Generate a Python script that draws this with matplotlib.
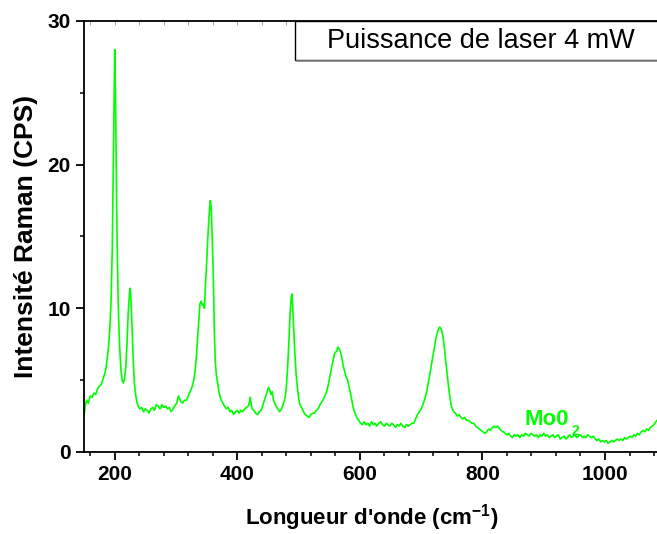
import matplotlib
matplotlib.use("Agg")
import matplotlib.pyplot as plt
from matplotlib.ticker import MultipleLocator
from matplotlib.patches import Rectangle
from matplotlib.lines import Line2D

plt.rcParams['font.family'] = ['Liberation Sans', 'DejaVu Sans']
plt.rcParams['mathtext.fontset'] = 'custom'
plt.rcParams['mathtext.rm'] = 'Liberation Sans:bold'
plt.rcParams['mathtext.bf'] = 'Liberation Sans:bold'

# Raman spectrum of MoO2 (4 mW laser)
raman_shift = [
    150, 152, 154, 157, 160, 163, 166, 169, 172, 175,
    178, 181, 184, 186, 188, 190, 192, 194, 196, 198,
    200, 201.5, 203, 204.5, 206, 208, 210, 212, 214, 216,
    218, 220, 222, 224, 225, 226.5, 228, 230, 232, 234,
    236, 238, 241, 244, 247, 250, 253, 256, 259, 262,
    265, 268, 271, 274, 277, 280, 283, 286, 289, 292,
    295, 298, 301, 304, 306, 308, 311, 314, 317, 320,
    323, 326, 329, 331, 333, 335, 337, 339, 341, 343,
    345, 346.5, 348, 350, 352, 354, 356, 357.5, 359, 361,
    362.5, 364, 366, 368, 370, 372, 374, 376.5, 379, 382,
    385, 388, 391, 394, 397, 400, 403, 406, 409, 412,
    415, 418, 420, 421, 422.5, 424, 427, 430, 433, 436,
    439, 442, 445, 448, 451, 453, 455, 457, 459, 461,
    463, 466, 469, 472, 475, 478, 480, 482, 484, 486,
    488, 489, 490.5, 492, 494, 496, 498, 500, 502, 505,
    508, 511, 514, 517, 520, 523, 526, 529, 532, 535,
    538, 541, 544, 547, 550, 553, 556, 559, 562, 564,
    566, 568, 570, 572, 574, 577, 580, 583, 586, 589,
    592, 595, 598, 601, 604, 607, 610, 613, 616, 619,
    622, 625, 628, 631, 634, 637, 640, 643, 646, 649,
    652, 655, 658, 661, 664, 667, 670, 673, 676, 679,
    682, 685, 688, 691, 694, 697, 700, 703, 706, 709,
    712, 715, 718, 721, 724, 727, 730, 732, 734, 736,
    738, 740, 742, 744, 746, 748, 750, 753, 756, 759,
    762, 765, 768, 771, 774, 777, 780, 783, 786, 789,
    792, 795, 798, 801, 804, 807, 810, 813, 816, 819,
    822, 825, 828, 831, 834, 837, 840, 843, 846, 849,
    852, 855, 858, 861, 864, 867, 870, 873, 876, 879,
    882, 885, 888, 891, 894, 897, 900, 903, 906, 909,
    912, 915, 918, 921, 924, 927, 930, 933, 936, 939,
    942, 945, 948, 951, 954, 957, 960, 963, 966, 969,
    972, 975, 978, 981, 984, 987, 990, 993, 996, 999,
    1002, 1005, 1008, 1011, 1014, 1017, 1020, 1023, 1026, 1029,
    1032, 1035, 1038, 1041, 1044, 1047, 1050, 1053, 1056, 1059,
    1062, 1065, 1068, 1071, 1074, 1077, 1080, 1083, 1087,
]
intensity = [
    2.6, 3.2, 3.6, 3.4, 3.9, 3.8, 4.1, 4.0, 4.4, 4.6,
    4.7, 5.1, 5.5, 5.9, 6.6, 7.4, 8.6, 10.5, 14.3, 21.0,
    28.0, 24.0, 17.5, 13.0, 9.8, 7.3, 5.8, 5.0, 4.8, 5.1,
    5.9, 7.5, 9.7, 11.0, 11.4, 10.6, 9.0, 6.6, 4.8, 4.0,
    3.5, 3.2, 3.0, 3.1, 2.8, 3.0, 2.9, 2.7, 3.0, 3.1,
    2.9, 3.3, 3.2, 3.0, 3.3, 3.1, 3.2, 3.0, 3.1, 2.8,
    3.0, 3.2, 3.4, 3.9, 3.7, 3.5, 3.4, 3.6, 3.6, 3.9,
    4.2, 4.5, 5.0, 5.6, 6.5, 7.8, 9.2, 10.3, 10.5, 10.2,
    10.3, 10.0, 11.6, 13.2, 15.0, 16.5, 17.5, 17.0, 15.0, 12.0,
    8.5, 6.3, 5.3, 4.8, 4.2, 3.8, 3.6, 3.4, 3.2, 3.0,
    3.1, 2.8, 2.9, 2.6, 2.8, 2.9, 2.7, 2.9, 2.8, 3.0,
    3.1, 3.2, 3.5, 3.8, 3.4, 3.0, 2.9, 2.7, 2.6, 2.8,
    2.9, 3.3, 3.7, 4.1, 4.5, 4.3, 4.0, 4.2, 3.6, 3.4,
    3.2, 3.0, 2.8, 3.0, 3.3, 3.8, 4.5, 5.8, 7.5, 9.5,
    10.8, 11.0, 10.0, 8.6, 6.8, 5.4, 4.5, 3.8, 3.3, 3.1,
    2.8, 2.6, 2.5, 2.4, 2.6, 2.7, 2.7, 2.9, 3.0, 3.3,
    3.5, 3.7, 4.0, 4.4, 5.0, 5.7, 6.3, 6.9, 7.0, 7.3,
    7.2, 7.0, 6.7, 6.2, 5.8, 5.3, 5.0, 4.4, 3.8, 3.1,
    2.7, 2.4, 2.2, 2.0, 1.9, 2.1, 1.9, 2.0, 1.8, 2.1,
    1.9, 2.0, 1.8, 2.0, 2.1, 1.9, 1.8, 2.0, 1.9, 1.8,
    2.0, 1.9, 1.7, 1.9, 1.8, 2.0, 1.8, 1.7, 1.9, 1.8,
    1.9, 2.0, 2.0, 2.3, 2.6, 2.8, 3.0, 3.3, 3.7, 4.2,
    4.9, 5.6, 6.4, 7.1, 7.9, 8.4, 8.7, 8.6, 8.4, 7.9,
    7.2, 6.4, 5.6, 4.8, 4.1, 3.5, 3.1, 2.8, 2.7, 2.5,
    2.6, 2.4, 2.3, 2.4, 2.2, 2.2, 2.1, 2.0, 2.0, 1.8,
    1.7, 1.6, 1.5, 1.4, 1.3, 1.4, 1.6, 1.5, 1.7, 1.8,
    1.7, 1.8, 1.6, 1.5, 1.4, 1.3, 1.2, 1.3, 1.1, 1.0,
    1.2, 1.1, 1.2, 1.0, 1.2, 1.1, 1.3, 1.2, 1.1, 1.3,
    1.2, 1.1, 1.2, 1.0, 1.2, 1.1, 1.3, 1.1, 1.2, 1.0,
    1.1, 1.2, 1.0, 1.1, 1.2, 0.9, 1.0, 1.1, 0.9, 1.0,
    1.2, 1.0, 1.1, 1.2, 1.0, 1.1, 1.2, 1.0, 1.1, 1.0,
    1.2, 1.1, 1.0, 1.1, 0.9, 0.8, 0.9, 0.7, 0.8, 0.7,
    0.8, 0.6, 0.7, 0.8, 0.7, 0.8, 0.9, 0.8, 0.9, 0.8,
    1.0, 0.9, 1.0, 1.1, 1.0, 1.2, 1.1, 1.3, 1.2, 1.4,
    1.5, 1.4, 1.6, 1.5, 1.7, 1.8, 1.9, 2.1, 2.3,
]

x_ticks = [200, 400, 600, 800, 1000]
y_ticks = [0, 10, 20, 30]

line_color = '#00FF00'

fig = plt.figure(figsize=(6.57, 5.34), dpi=100)
ax = fig.add_axes([0.128, 0.1536, 0.874, 0.8071])

ax.plot(raman_shift, intensity, color=line_color, lw=1.2)

ax.set_xlim(150, 1087)
ax.set_ylim(0, 30)
ax.set_xticks(x_ticks)
ax.set_yticks(y_ticks)
ax.xaxis.set_minor_locator(MultipleLocator(40))
ax.yaxis.set_minor_locator(MultipleLocator(5))

ax.spines['right'].set_visible(False)
for s in ('left', 'bottom', 'top'):
    ax.spines[s].set_linewidth(1.3)

ax.tick_params(axis='both', which='major', direction='out', length=5.5, width=1.3,
               labelsize=15, pad=4)
ax.tick_params(axis='both', which='minor', direction='out', length=3, width=1.1)
ax.tick_params(axis='x', which='both', top=False)
for lbl in ax.get_xticklabels() + ax.get_yticklabels():
    lbl.set_fontweight('bold')

# inward ticks on the top spine
secx = ax.secondary_xaxis('top')
secx.set_xticks(x_ticks)
secx.xaxis.set_minor_locator(MultipleLocator(40))
secx.tick_params(which='both', direction='in', length=3, width=0.8,
                 colors='#aaaaaa', labeltop=False)
secx.spines['top'].set_visible(False)

ax.set_xlabel(r"Longueur d'onde (cm$^{\mathrm{-1}}$)", fontsize=16, fontweight='bold',
              labelpad=13)
ax.set_ylabel("Intensité Raman (CPS)", fontsize=19, fontweight='bold', labelpad=7)

# legend-style box in the top right corner
box_x0 = 0.368
box_y0 = 0.909
ax.add_patch(Rectangle((box_x0, box_y0), 1.0 - box_x0 + 0.01, 1.0 - box_y0,
                       transform=ax.transAxes, facecolor='white',
                       edgecolor='black', lw=1.0, zorder=5, clip_on=False))
ax.add_line(Line2D([box_x0 + 0.002, 1.01], [box_y0 - 0.003, box_y0 - 0.003],
                   transform=ax.transAxes, color='#888888', lw=1.2, zorder=5,
                   clip_on=False))
ax.text(0.691, 0.953, "Puissance de laser 4 mW", transform=ax.transAxes,
        ha='center', va='center', fontsize=19.5, zorder=6)

# sample label
ax.text(869, 1.9, "Mo0", color=line_color, fontsize=16, fontweight='bold',
        ha='left', va='baseline')
ax.text(945, 1.15, "2", color=line_color, fontsize=10, fontweight='bold',
        ha='left', va='baseline')

fig.savefig("out.png", dpi=100)
